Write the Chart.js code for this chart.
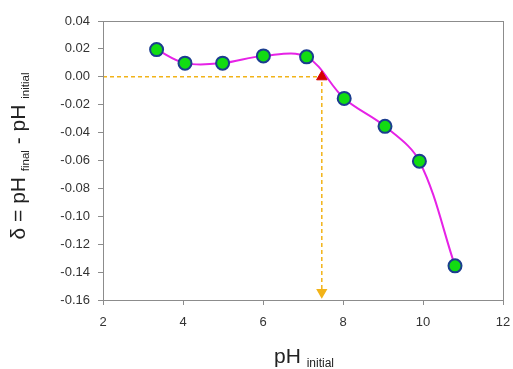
<!DOCTYPE html>
<html>
<head>
<meta charset="utf-8">
<script src="https://cdn.jsdelivr.net/npm/chart.js@4/dist/chart.umd.min.js"></script>
<style>
    body { margin: 0; background: #fff; }
    #wrap { width: 513px; height: 369px; }
</style>
</head>
<body>
<div id="wrap"><canvas id="grafica"></canvas></div>
<script>
// datos
const phInicial = [3.34, 4.05, 4.99, 6.01, 7.09, 8.03, 9.05, 9.91, 10.8];
const delta = [0.0195, 0.0098, 0.0098, 0.015, 0.0143, -0.0155, -0.0355, -0.0605, -0.1355];
const phPzc = [7.47];
const deltaPzc = [0.0];
const guiaX = [2, 7.47, 7.47];
const guiaY = [0, 0, -0.1545];
const ejeXTicks = [2, 4, 6, 8, 10, 12];
const ejeYMin = -0.16;
const ejeYMax = 0.04;

const fuente = '"Liberation Sans", Arial, sans-serif';

const puntos = (xs, ys) => xs.map((x, i) => ({ x: x, y: ys[i] }));

// marco y titulos con subindices
const marco = {
    id: "marco",
    afterDraw(chart) {
        const { ctx, chartArea: a } = chart;
        ctx.save();
        ctx.strokeStyle = "#8c8c8c";
        ctx.lineWidth = 1;
        ctx.strokeRect(a.left + 0.5, a.top + 0.5, a.right - a.left, a.bottom - a.top);

        const escribir = (partes, cx, cy, rot) => {
            ctx.save();
            ctx.translate(cx, cy);
            ctx.rotate(rot);
            ctx.fillStyle = "#222";
            ctx.textBaseline = "alphabetic";
            let total = 0;
            partes.forEach((p) => {
                ctx.font = p.size + "px " + fuente;
                total += ctx.measureText(p.t).width;
            });
            let x = -total / 2;
            partes.forEach((p) => {
                ctx.font = p.size + "px " + fuente;
                ctx.fillText(p.t, x, p.dy);
                x += ctx.measureText(p.t).width;
            });
            ctx.restore();
        };

        escribir([
            { t: "pH ", size: 21, dy: 0 },
            { t: "initial", size: 12, dy: 4 },
        ], 304, 363, 0);

        escribir([
            { t: "δ = pH ", size: 21, dy: 0 },
            { t: "final", size: 11.5, dy: 4 },
            { t: " - pH ", size: 21, dy: 0 },
            { t: "initial", size: 11.5, dy: 4 },
        ], 25, 156, -Math.PI / 2);
        ctx.restore();
    },
};

const ctx = document.getElementById("grafica");
const grafica = new Chart(ctx, {
    type: "scatter",
    data: {
        datasets: [
            {
                label: "pzc",
                data: puntos(phPzc, deltaPzc),
                pointStyle: "triangle",
                pointRadius: 6,
                backgroundColor: "#d40000",
                borderColor: "#d40000",
                borderWidth: 1,
                order: 0,
            },
            {
                label: "delta",
                data: puntos(phInicial, delta),
                showLine: true,
                tension: 0.35,
                borderColor: "#e622e6",
                borderWidth: 2,
                pointRadius: 6.5,
                pointBackgroundColor: "#12dc12",
                pointBorderColor: "#1b3d8f",
                pointBorderWidth: 2,
                order: 1,
            },
            {
                label: "guia",
                data: puntos(guiaX, guiaY),
                showLine: true,
                tension: 0,
                borderColor: "#f2b318",
                borderWidth: 1.5,
                borderDash: [4, 3],
                pointStyle: "triangle",
                rotation: 180,
                pointRadius: [0, 0, 5],
                pointBackgroundColor: "#f2b318",
                pointBorderColor: "#f2b318",
                order: 2,
            },
        ],
    },
    options: {
        responsive: true,
        maintainAspectRatio: false,
        animation: false,
        layout: { padding: { top: 21, right: 10, left: 0, bottom: 0 } },
        plugins: {
            legend: { display: false },
            tooltip: { enabled: false },
        },
        scales: {
            x: {
                type: "linear",
                min: 2,
                max: 12,
                afterBuildTicks: (scale) => {
                    scale.ticks = ejeXTicks.map((v) => ({ value: v }));
                },
                afterFit: (scale) => {
                    scale.height = 69;
                    scale.paddingLeft = 0;
                    scale.paddingRight = 0;
                },
                grid: { drawOnChartArea: false, tickLength: 5, color: "#8c8c8c" },
                border: { color: "#8c8c8c" },
                ticks: { color: "#333", font: { family: fuente, size: 13 }, padding: 10 },
            },
            y: {
                min: ejeYMin,
                max: ejeYMax,
                afterFit: (scale) => { scale.width = 103; },
                grid: { drawOnChartArea: false, tickLength: 5, color: "#8c8c8c" },
                border: { color: "#8c8c8c" },
                ticks: {
                    stepSize: 0.02,
                    color: "#333",
                    font: { family: fuente, size: 13 },
                    padding: 8,
                    callback: (v) => (Math.abs(v) < 1e-9 ? "0.00" : v.toFixed(2)),
                },
            },
        },
    },
    plugins: [marco],
});
</script>
</body>
</html>
